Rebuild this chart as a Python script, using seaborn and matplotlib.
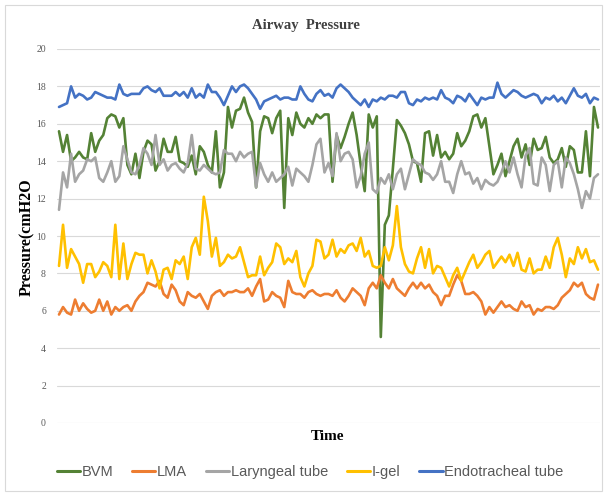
import numpy as np
import pandas as pd
import matplotlib
matplotlib.use("Agg")
import matplotlib.pyplot as plt
import seaborn as sns
from matplotlib.patches import Rectangle

# ── Data (cmH2O) ───────────────────────────────────────────────
SERIES = ["BVM", "LMA", "Laryngeal tube", "I-gel", "Endotracheal tube"]
COLORS = ["#548235", "#ED7D31", "#A5A5A5", "#FFC000", "#4472C4"]

bvm = [15.6, 14.5, 15.4, 14.0, 14.2, 14.5, 14.2, 14.1, 15.5, 14.5, 15.1, 15.4, 16.3, 16.5, 16.4, 15.8, 16.3, 13.8, 13.3, 14.4, 13.1, 14.5,
       15.1, 14.9, 13.5, 14.0, 15.2, 14.5, 14.5, 15.3, 14.0, 13.9, 13.7, 14.3, 13.3, 14.8, 14.5, 13.8, 13.4, 15.6, 12.6, 13.4, 16.9, 15.8, 16.7,
       16.8, 17.4, 16.6, 16.1, 12.6, 15.6, 16.4, 16.3, 15.5, 16.3, 16.7, 11.5, 16.3, 15.4, 16.6, 16.0, 15.8, 16.3, 16.0, 16.5, 16.3, 16.5,
       16.5, 12.9, 15.4, 14.7, 15.3, 16.0, 16.6, 15.4, 13.8, 12.4, 16.5, 15.8, 16.4, 4.6, 10.6, 11.1, 13.6, 16.2, 15.9, 15.5, 14.9, 14.0, 13.9,
       12.9, 15.5, 15.6, 14.3, 15.4, 14.2, 14.5, 14.1, 14.4, 15.5, 14.8, 15.1, 15.6, 16.4, 16.5, 15.8, 16.3, 14.8, 13.3, 13.8, 14.4, 13.2,
       14.0, 14.8, 15.2, 14.2, 14.9, 13.8, 15.2, 14.6, 14.7, 15.3, 14.2, 13.9, 14.1, 14.7, 13.7, 14.8, 14.6, 13.4, 13.4, 15.6, 13.2, 16.9, 15.8]

lma = [5.8, 6.2, 5.9, 5.8, 6.6, 6.0, 6.4, 6.1, 5.9, 6.0, 6.6, 6.0, 6.5, 5.8, 6.2, 6.0, 6.2, 6.3, 6.0, 6.5, 6.8, 7.0,
       7.5, 7.4, 7.3, 7.6, 6.9, 6.7, 7.4, 7.1, 6.5, 6.3, 7.0, 6.8, 6.7, 6.9, 6.5, 6.1, 6.8, 7.0, 7.1, 6.8, 7.0, 7.0, 7.1,
       7.0, 7.0, 7.2, 6.8, 7.3, 7.7, 6.5, 6.6, 7.0, 6.8, 6.7, 6.2, 7.6, 7.0, 6.9, 6.9, 6.7, 7.0, 7.1, 6.9, 6.8, 6.9,
       6.9, 6.8, 7.1, 6.7, 6.5, 6.8, 7.2, 7.0, 6.8, 6.3, 7.2, 7.5, 7.2, 7.9, 7.5, 7.2, 7.7, 7.2, 7.0, 6.8, 7.2, 7.5, 7.2,
       7.5, 7.2, 7.4, 7.0, 6.8, 6.3, 6.8, 6.8, 7.4, 7.9, 7.6, 6.9, 6.9, 7.0, 6.8, 6.5, 5.8, 6.2, 5.9, 6.2, 6.5, 6.2,
       6.3, 6.1, 6.0, 6.5, 6.2, 6.3, 5.8, 6.1, 6.0, 6.2, 6.2, 6.1, 6.3, 6.7, 6.9, 7.1, 7.5, 7.3, 7.5, 6.9, 6.7, 6.6, 7.4]

laryngeal = [11.4, 13.4, 12.6, 14.4, 12.9, 13.3, 13.5, 14.1, 14.0, 14.2, 13.1, 12.9, 13.4, 14.0, 12.9, 13.2, 14.8, 14.1, 13.4, 13.3, 13.8, 14.7,
             14.4, 13.8, 15.4, 13.8, 14.1, 13.5, 13.8, 13.9, 13.6, 13.4, 13.9, 15.4, 13.6, 13.5, 13.8, 13.6, 13.4, 13.3, 13.4, 14.6, 14.4, 14.4, 14.0,
             14.5, 14.2, 14.4, 14.5, 12.6, 13.9, 13.3, 12.9, 13.4, 12.9, 13.1, 13.3, 13.7, 12.7, 13.6, 13.4, 13.2, 12.9, 13.8, 14.9, 15.2, 13.4,
             13.9, 13.2, 15.5, 14.0, 14.4, 14.5, 14.1, 12.6, 13.2, 14.4, 15.0, 12.5, 12.3, 13.1, 12.8, 13.3, 12.5, 13.3, 13.6, 12.5, 13.3, 14.1, 13.9,
             13.8, 13.4, 13.3, 13.0, 13.3, 14.0, 12.9, 12.9, 12.3, 13.3, 14.0, 13.3, 13.4, 12.8, 13.1, 12.5, 13.0, 12.8, 12.7, 12.9, 13.4, 14.0,
             13.4, 14.2, 13.3, 12.6, 14.3, 14.7, 12.8, 12.7, 14.2, 13.8, 12.4, 13.8, 14.0, 12.6, 14.2, 13.9, 13.3, 12.5, 11.5, 12.4, 12.0, 13.1, 13.3]

igel = [8.4, 10.6, 8.3, 9.3, 8.9, 8.5, 7.5, 8.5, 8.5, 7.8, 8.1, 8.6, 8.4, 7.8, 10.6, 7.7, 9.6, 7.7, 8.5, 9.1, 9.0, 9.0,
        8.0, 8.7, 8.1, 7.2, 8.2, 8.3, 7.7, 8.7, 8.5, 8.9, 7.7, 9.4, 9.9, 9.0, 12.1, 10.8, 8.9, 9.9, 8.4, 8.6, 9.0, 8.8, 8.9,
        9.4, 8.6, 7.8, 7.9, 7.9, 8.9, 7.9, 8.3, 8.6, 9.6, 9.4, 8.5, 8.8, 8.6, 9.2, 7.8, 7.3, 8.0, 8.4, 9.8, 9.7, 8.8,
        9.0, 9.8, 8.9, 9.3, 9.1, 9.5, 9.6, 9.2, 9.9, 8.9, 9.2, 8.4, 8.3, 8.4, 9.4, 8.7, 9.5, 11.6, 9.4, 8.5, 8.1, 8.0, 8.8,
        9.4, 8.3, 9.3, 8.0, 8.4, 8.3, 7.8, 7.3, 7.9, 8.3, 7.6, 8.1, 8.6, 9.0, 8.3, 8.6, 9.0, 9.2, 8.3, 8.6, 8.9, 8.6,
        9.0, 8.4, 9.1, 8.2, 8.1, 8.8, 8.0, 8.2, 8.2, 8.9, 8.3, 9.4, 9.9, 9.0, 7.8, 8.8, 8.5, 9.4, 8.8, 9.3, 8.6, 8.7, 8.2]

endotracheal = [16.9, 17.0, 17.1, 18.0, 17.4, 17.6, 17.5, 17.3, 17.4, 17.7, 17.6, 17.5, 17.4, 17.4, 17.3, 18.1, 17.6, 17.5, 17.6, 17.6, 17.6, 17.9,
                18.0, 17.8, 17.7, 17.9, 17.5, 17.5, 17.5, 17.7, 17.5, 17.7, 17.4, 17.9, 17.4, 17.6, 17.4, 18.1, 17.7, 17.7, 17.4, 17.0, 17.5, 18.0, 17.7,
                18.0, 18.1, 17.9, 17.6, 17.3, 16.8, 17.2, 17.3, 17.4, 17.5, 17.3, 17.4, 17.4, 17.3, 17.3, 18.0, 17.6, 17.3, 17.2, 17.6, 17.8, 17.5,
                17.6, 17.4, 17.9, 18.1, 17.9, 17.7, 17.4, 17.2, 17.0, 17.3, 16.9, 17.3, 17.2, 17.4, 17.3, 17.5, 17.5, 17.4, 17.7, 17.7, 17.1, 17.0, 17.3,
                17.2, 17.4, 17.3, 17.4, 17.3, 17.8, 17.4, 17.3, 17.1, 17.5, 17.4, 17.2, 17.6, 17.3, 17.0, 17.4, 17.3, 17.4, 17.4, 18.2, 17.6, 17.4,
                17.6, 17.8, 17.7, 17.5, 17.4, 17.5, 17.6, 17.5, 17.1, 17.4, 17.3, 17.5, 17.2, 17.4, 17.1, 17.5, 17.9, 17.5, 17.4, 17.6, 17.1, 17.4, 17.3]

Y_TICKS = [0, 2, 4, 6, 8, 10, 12, 14, 16, 18, 20]

# ── Long-form table for seaborn ────────────────────────────────
frames = []
for name, vals in zip(SERIES, [bvm, lma, laryngeal, igel, endotracheal]):
    frames.append(pd.DataFrame({"Time": np.arange(len(vals)),
                                "Pressure": vals,
                                "Series": name}))
df = pd.concat(frames, ignore_index=True)

# ── Plot ───────────────────────────────────────────────────────
sns.set_style("white")
plt.rcParams['font.family'] = ['Liberation Serif', 'DejaVu Serif']

fig = plt.figure(figsize=(6.05, 4.93), dpi=100)
ax = fig.add_axes([57 / 605, 1 - 423 / 493, 543 / 605, 374 / 493])

sns.lineplot(data=df, x="Time", y="Pressure", hue="Series",
             hue_order=SERIES, palette=COLORS, linewidth=1.9,
             ax=ax, legend=False)

ax.set_xlim(-0.5, len(bvm) - 0.5)
ax.set_ylim(0, 20)
ax.set_yticks(Y_TICKS)
ax.set_yticklabels([str(t) for t in Y_TICKS], fontsize=7, color="#595959")
ax.set_xticks([])
ax.tick_params(axis="y", length=0, pad=8)
ax.grid(axis="y", color="#D9D9D9", linewidth=0.8)
ax.set_axisbelow(True)
for s in ax.spines.values():
    s.set_visible(False)

ax.set_xlabel("")
ax.set_ylabel("")
fig.text(328 / 605, 1 - 437 / 493, "Time", ha="center", va="center",
         fontsize=11, fontweight="bold", color="black")
fig.text(27 / 605, 1 - 237 / 493, "Pressure(cmH2O", ha="center", va="center",
         rotation=90, fontsize=11.5, fontweight="bold", color="black")
fig.text(306 / 605, 1 - 25 / 493, "Airway  Pressure", ha="center", va="center",
         fontsize=10.5, fontweight="bold", color="#404040")

# legend
handles = [plt.Line2D([], [], color=c, linewidth=2.2) for c in COLORS]
leg = fig.legend(handles, SERIES, loc="center", bbox_to_anchor=(310 / 605, 1 - 472 / 493),
                 ncol=5, frameon=False, handlelength=1.6, handletextpad=0.1,
                 columnspacing=1.3,
                 prop={"family": ["Liberation Sans", "DejaVu Sans"], "size": 10.5})
for t in leg.get_texts():
    t.set_color("#595959")

# outer chart frame
fig.patches.append(Rectangle((5 / 605, 2 / 493), 597 / 605, 486 / 493,
                             transform=fig.transFigure, fill=False,
                             edgecolor="#D9D9D9", linewidth=0.8))

fig.savefig("out.png", dpi=100, facecolor="white")
plt.close(fig)
